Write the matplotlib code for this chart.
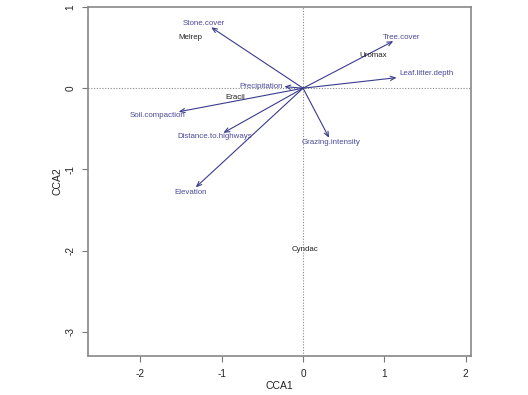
import matplotlib
matplotlib.use("Agg")
import matplotlib.pyplot as plt

plt.rcParams['font.family'] = ['Liberation Sans', 'DejaVu Sans']

# Environmental biplot arrows (CCA1, CCA2)
env_names = ["Stone.cover", "Precipitation", "Soil.compaction", "Distance.to.highways",
             "Elevation", "Grazing.intensity", "Tree.cover", "Leaf.litter.depth"]
env_x = [-1.13, -0.23, -1.53, -0.98, -1.32, 0.32, 1.11, 1.15]
env_y = [0.75, 0.02, -0.29, -0.55, -1.22, -0.61, 0.58, 0.13]
# label positions
lab_x = [-1.22, -0.25, -1.79, -1.09, -1.38, 0.35, 1.21, 1.18]
lab_y = [0.80, 0.02, -0.34, -0.60, -1.28, -0.67, 0.63, 0.18]
lab_ha = ["center", "right", "center", "center", "center", "center", "center", "left"]

# Species scores
sp_names = ["Melrep", "Eracil", "Uromax", "Cyndac"]
sp_x = [-1.38, -0.84, 0.86, 0.02]
sp_y = [0.63, -0.12, 0.40, -1.99]

xticks = [-2, -1, 0, 1, 2]
yticks = [-3, -2, -1, 0, 1]

fig = plt.figure(figsize=(5.28, 3.95), dpi=100)
ax = fig.add_axes([0.1667, 0.0987, 0.7254, 0.8836])
ax.set_xlim(-2.645, 2.066)
ax.set_ylim(-3.297, 1.0)

arrow_col = '#3b3b8f'
ax.axhline(0, color='#888888', lw=0.8, ls=(0, (1, 1.5)), zorder=1)
ax.axvline(0, color='#888888', lw=0.8, ls=(0, (1, 1.5)), zorder=1)

for n, x, y, lx, ly, ha in zip(env_names, env_x, env_y, lab_x, lab_y, lab_ha):
    ax.annotate("", xy=(x, y), xytext=(0, 0),
                arrowprops=dict(arrowstyle='->,head_length=0.35,head_width=0.15',
                                color=arrow_col, lw=0.8, shrinkA=0, shrinkB=0))
    ax.text(lx, ly, n, color='#4a4a9a', fontsize=5.7, ha=ha, va='center')

for n, x, y in zip(sp_names, sp_x, sp_y):
    ax.text(x, y, n, color='#222222', fontsize=5.7, ha='center', va='center')

ax.set_xticks(xticks)
ax.set_yticks(yticks)
ax.set_xticklabels([str(t) for t in xticks])
ax.set_yticklabels([str(t) for t in yticks], rotation=90, va='center')
ax.tick_params(axis='both', direction='out', length=4, width=0.8, color='#777777',
               labelsize=7.2, labelcolor='#222222', pad=5)
for s in ax.spines.values():
    s.set_color('#888888')
    s.set_linewidth(1.2)

ax.set_xlabel("CCA1", fontsize=7.5, color='#222222', labelpad=2)
ax.set_ylabel("CCA2", fontsize=7.5, color='#222222', labelpad=2)

fig.savefig("out.png", dpi=100)
